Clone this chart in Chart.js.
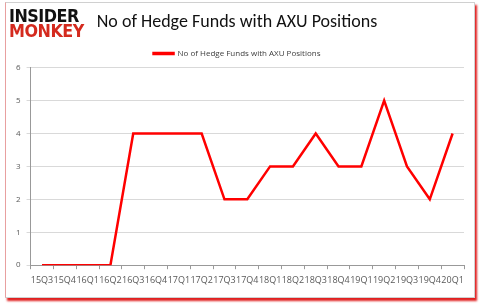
<!DOCTYPE html>
<html>
<head>
<meta charset="utf-8">
<script src="https://cdn.jsdelivr.net/npm/chart.js@4"></script>
<style>
  body { margin: 0; background: #fff; width: 479px; height: 307px; overflow: hidden; font-family: Calibri, Carlito, "Liberation Sans", sans-serif; }
  #box { position: absolute; left: 5px; top: 2px; width: 468px; height: 294px; border: 1px solid #d0d0d0; border-left-color: #e8a0a0; box-shadow: 2px 3px 2px #e02020; background: #fff; }
  #logo { position: absolute; left: 3px; top: 5px; font-family: "DejaVu Sans", sans-serif; font-weight: bold; font-size: 16px; line-height: 15px; letter-spacing: -0.5px; transform: scaleY(1.05); transform-origin: top left; }
  #logo .a { color: #111; }
  #logo .b { color: #d42a1e; }
  #wrap { position: absolute; left: 0; top: 0; width: 468px; height: 294px; }
</style>
</head>
<body>
<div id="box">
  <div id="wrap"><canvas id="chart"></canvas></div>
  <div id="logo"><div class="a">INSIDER</div><div class="b">MONKEY</div></div>
</div>
<script>
let quarters = ["15Q3", "15Q4", "16Q1", "16Q2", "16Q3", "16Q4", "17Q1", "17Q2", "17Q3", "17Q4",
    "18Q1", "18Q2", "18Q3", "18Q4", "19Q1", "19Q2", "19Q3", "19Q4", "20Q1"];
let funds = [0, 0, 0, 0, 4, 4, 4, 4, 2, 2, 3, 3, 4, 3, 3, 5, 3, 2, 4];
let seriesName = "No of Hedge Funds with AXU Positions";

const ctx = document.getElementById("chart");

let chart = new Chart(ctx, {
    type: 'line',
    data: {
        labels: quarters,
        datasets: [{
            label: seriesName,
            data: funds,
            borderColor: '#ff0000',
            backgroundColor: '#ff0000',
            borderWidth: 2.5,
            pointRadius: 0,
            tension: 0
        }]
    },
    options: {
        responsive: true,
        maintainAspectRatio: false,
        animation: false,
        layout: { padding: { left: 4, right: 10, top: 5, bottom: 5 } },
        plugins: {
            title: {
                display: true,
                text: seriesName,
                color: '#111',
                font: { family: 'Calibri, Carlito, "Open Sans", sans-serif', size: 18, weight: 'normal' },
                padding: { top: 4, bottom: 6 }
            },
            legend: {
                labels: {
                    boxWidth: 20,
                    boxHeight: 1,
                    color: '#404040',
                    font: { family: '"Open Sans", sans-serif', size: 8 },
                    padding: 10
                }
            },
            tooltip: { enabled: false }
        },
        scales: {
            x: {
                offset: true,
                grid: { offset: true, drawOnChartArea: false, tickLength: 4, color: '#999' },
                border: { color: '#999' },
                ticks: {
                    maxRotation: 0,
                    autoSkip: false,
                    color: '#595959',
                    padding: 6,
                    font: { family: '"Open Sans", sans-serif', size: 9 }
                }
            },
            y: {
                min: 0,
                max: 6,
                ticks: {
                    stepSize: 1,
                    color: '#595959',
                    padding: 6,
                    font: { family: '"Open Sans", sans-serif', size: 8 }
                },
                grid: { color: '#d9d9d9', tickLength: 4 },
                border: { color: '#999' }
            }
        }
    }
});
</script>
</body>
</html>
